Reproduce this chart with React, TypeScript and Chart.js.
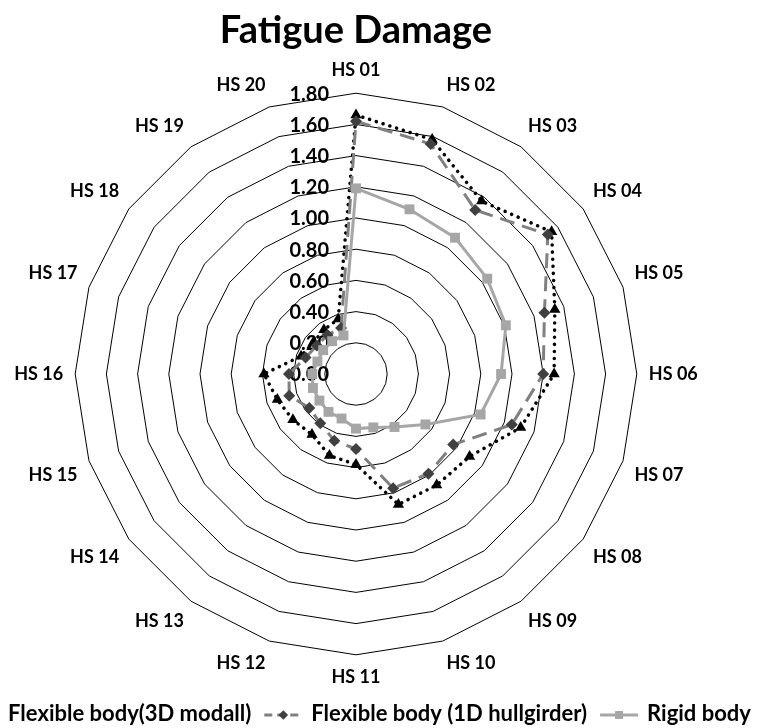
import React, { useEffect, useRef } from 'react';
import { Chart, registerables } from 'chart.js';

Chart.register(...registerables);

const categories = [
  'HS 01', 'HS 02', 'HS 03', 'HS 04', 'HS 05', 'HS 06', 'HS 07', 'HS 08', 'HS 09', 'HS 10',
  'HS 11', 'HS 12', 'HS 13', 'HS 14', 'HS 15', 'HS 16', 'HS 17', 'HS 18', 'HS 19', 'HS 20',
];

const flex3D = [1.66, 1.58, 1.37, 1.55, 1.34, 1.27, 1.11, 0.9, 0.88, 0.88, 0.58, 0.55, 0.48, 0.5, 0.53, 0.59, 0.37, 0.34, 0.35, 0.37];
const flex1D = [1.62, 1.55, 1.3, 1.52, 1.27, 1.2, 1.05, 0.77, 0.79, 0.77, 0.48, 0.45, 0.39, 0.37, 0.45, 0.43, 0.34, 0.31, 0.31, 0.31];
const rigid = [1.19, 1.11, 1.08, 1.04, 1.01, 0.93, 0.84, 0.55, 0.42, 0.36, 0.35, 0.3, 0.3, 0.29, 0.29, 0.28, 0.26, 0.26, 0.26, 0.26];

const seriesNames = ['Flexible body(3D modall)', 'Flexible body (1D hullgirder)', 'Rigid body'];
const axisMin = 0;
const axisMax = 1.8;
const axisStep = 0.2;
const titleText = 'Fatigue Damage';

const FONT = 'Lato, "Open Sans", sans-serif';

function drawMarker(ctx: CanvasRenderingContext2D, style: string, x: number, y: number, r: number, color: string) {
  ctx.save();
  ctx.setLineDash([]);
  ctx.fillStyle = color;
  ctx.beginPath();
  if (style === 'triangle') {
    const edge = (3 * r) / Math.sqrt(3);
    const h = (edge * Math.sqrt(3)) / 2;
    ctx.moveTo(x, y - (2 * h) / 3);
    ctx.lineTo(x + edge / 2, y + h / 3);
    ctx.lineTo(x - edge / 2, y + h / 3);
  } else if (style === 'rectRot') {
    ctx.moveTo(x, y - r);
    ctx.lineTo(x + r, y);
    ctx.lineTo(x, y + r);
    ctx.lineTo(x - r, y);
  } else {
    const s = Math.SQRT1_2 * r;
    ctx.rect(x - s, y - s, 2 * s, 2 * s);
  }
  ctx.closePath();
  ctx.fill();
  ctx.restore();
}

const tickPlugin = {
  id: 'leftTicks',
  beforeDatasetsDraw(chart: any) {
    const scale = chart.scales.r;
    const ctx = chart.ctx as CanvasRenderingContext2D;
    ctx.save();
    ctx.font = `bold 20px ${FONT}`;
    ctx.fillStyle = '#000';
    ctx.textAlign = 'right';
    ctx.textBaseline = 'middle';
    scale.ticks.forEach((t: any) => {
      const d = scale.getDistanceFromCenterForValue(t.value);
      ctx.fillText(Number(t.value).toFixed(2), scale.xCenter - 27, scale.yCenter - d + 1);
    });
    ctx.restore();
  },
};

const legendMarkerPlugin = {
  id: 'legendMarkers',
  afterDraw(chart: any) {
    const legend = chart.legend;
    if (!legend || !legend.legendHitBoxes) return;
    const ctx = chart.ctx as CanvasRenderingContext2D;
    const bw = legend.options.labels.boxWidth;
    legend.legendItems.forEach((item: any, i: number) => {
      const hb = legend.legendHitBoxes[i];
      const ds = chart.data.datasets[item.datasetIndex];
      const cy = hb.top + hb.height / 2 + 1;
      const x0 = hb.left;
      const x1 = hb.left + bw + 2;
      ctx.save();
      ctx.strokeStyle = ds.borderColor;
      ctx.lineWidth = ds.borderWidth;
      ctx.lineCap = ds.borderCapStyle || 'butt';
      ctx.setLineDash(ds.legendDash || []);
      ctx.beginPath();
      ctx.moveTo(x0, cy);
      ctx.lineTo(x1, cy);
      ctx.stroke();
      ctx.restore();
      drawMarker(ctx, ds.pointStyle, (x0 + x1) / 2, cy, ds.pointRadius * 0.8, ds.pointBackgroundColor);
    });
  },
};

export default function App() {
  const canvasRef = useRef<HTMLCanvasElement | null>(null);

  useEffect(() => {
    const canvas = canvasRef.current;
    if (!canvas) return;
    const chart = new Chart(canvas, {
      type: 'radar',
      data: {
        labels: categories,
        datasets: [
          {
            label: seriesNames[2],
            data: rigid,
            borderColor: '#a6a6a6',
            backgroundColor: '#a6a6a6',
            borderWidth: 3,
            fill: false,
            pointStyle: 'rect',
            pointRadius: 7,
            pointBackgroundColor: '#a6a6a6',
            pointBorderColor: '#a6a6a6',
            pointBorderWidth: 0,
            legendDash: [],
          } as any,
          {
            label: seriesNames[1],
            data: flex1D,
            borderColor: '#808080',
            backgroundColor: '#808080',
            borderWidth: 3,
            borderDash: [15, 8],
            fill: false,
            pointStyle: 'rectRot',
            pointRadius: 6,
            pointBackgroundColor: '#404040',
            pointBorderColor: '#404040',
            pointBorderWidth: 0,
            legendDash: [8, 5],
          } as any,
          {
            label: seriesNames[0],
            data: flex3D,
            borderColor: '#000000',
            backgroundColor: '#000000',
            borderWidth: 3.5,
            borderDash: [0.1, 7],
            borderCapStyle: 'round',
            fill: false,
            pointStyle: 'triangle',
            pointRadius: 6.5,
            pointBackgroundColor: '#000000',
            pointBorderColor: '#000000',
            pointBorderWidth: 0,
            legendDash: [0.1, 6],
          } as any,
        ],
      },
      options: {
        responsive: false,
        animation: false,
        layout: { padding: 0 },
        elements: { line: { tension: 0 } },
        scales: {
          r: {
            min: axisMin,
            max: axisMax,
            beginAtZero: true,
            ticks: { display: false, stepSize: axisStep },
            grid: { color: '#000000', lineWidth: 1, circular: false },
            angleLines: { display: false },
            pointLabels: {
              color: '#000000',
              font: { family: FONT, size: 18, weight: 'bold' },
              padding: 12,
            },
          },
        },
        plugins: {
          title: {
            display: true,
            text: titleText,
            color: '#000000',
            font: { family: FONT, size: 38, weight: 'bold' },
            padding: { top: 8, bottom: 6 },
          },
          legend: {
            position: 'bottom',
            reverse: true,
            labels: {
              color: '#000000',
              font: { family: FONT, size: 22, weight: 'bold' },
              boxWidth: 36,
              boxHeight: 10,
              padding: 13,
              generateLabels: (ch: any) => {
                const base = Chart.defaults.plugins.legend.labels.generateLabels(ch);
                return base.map((l: any) => ({
                  ...l,
                  fillStyle: 'rgba(0,0,0,0)',
                  strokeStyle: 'rgba(0,0,0,0)',
                  lineWidth: 0,
                }));
              },
            },
          },
          tooltip: { enabled: false },
        },
      },
      plugins: [tickPlugin, legendMarkerPlugin],
    });
    return () => chart.destroy();
  }, []);

  return (
    <div style={{ position: 'fixed', left: 0, top: 0, width: 763, height: 728, overflow: 'hidden', background: '#fff' }}>
      <canvas
        ref={canvasRef}
        width={840}
        height={735}
        style={{ position: 'absolute', left: -64, top: 0, width: 840, height: 735 }}
      />
    </div>
  );
}
